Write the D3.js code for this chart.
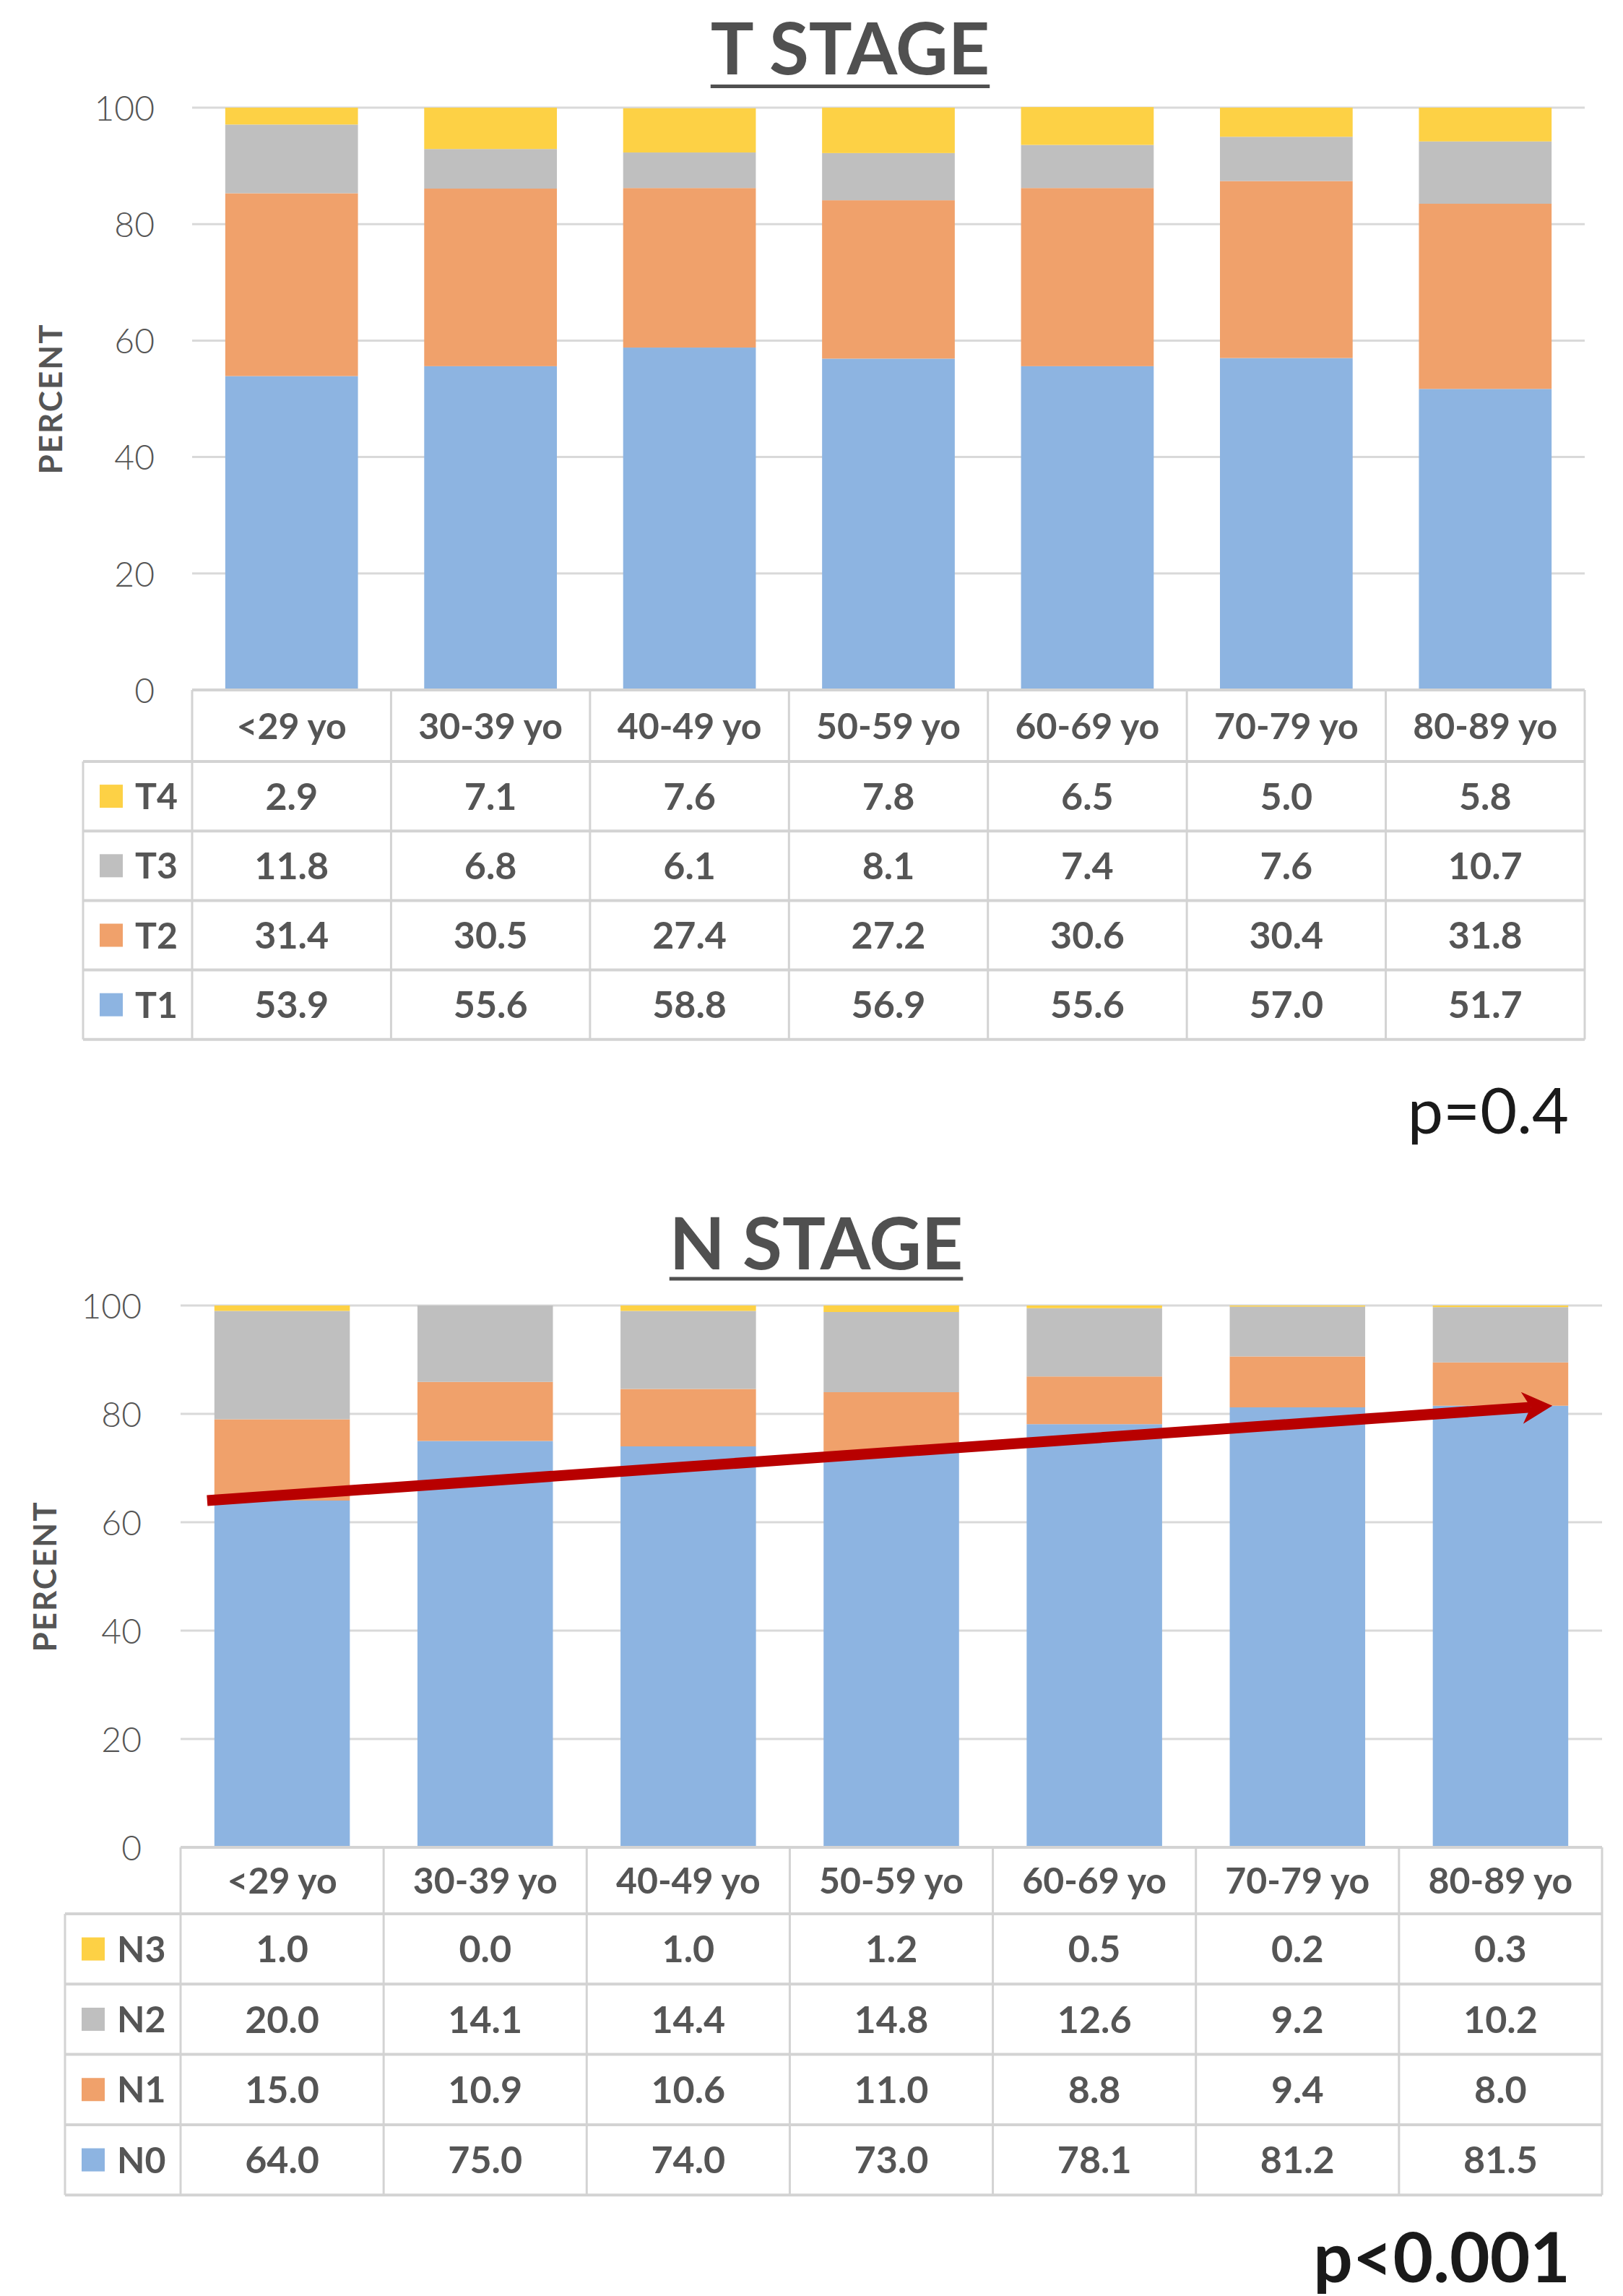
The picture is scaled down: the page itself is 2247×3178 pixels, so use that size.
<!DOCTYPE html>
<html>
<head>
<meta charset="utf-8">
<script src="https://cdn.jsdelivr.net/npm/d3@7"></script>
<style>
  html, body { margin: 0; padding: 0; background: #fff; }
  svg { display: block; }
</style>
</head>
<body>
<svg id="chart" width="2247" height="3178"></svg>
<script>
// ---- data ----
const ageGroups = ["<29 yo", "30-39 yo", "40-49 yo", "50-59 yo", "60-69 yo", "70-79 yo", "80-89 yo"];
const yTicks = [0, 20, 40, 60, 80, 100];

// T stage distribution (percent) per age group
const tStages = ["T1", "T2", "T3", "T4"];
const t1 = [53.9, 55.6, 58.8, 56.9, 55.6, 57.0, 51.7];
const t2 = [31.4, 30.5, 27.4, 27.2, 30.6, 30.4, 31.8];
const t3 = [11.8, 6.8, 6.1, 8.1, 7.4, 7.6, 10.7];
const t4 = [2.9, 7.1, 7.6, 7.8, 6.5, 5.0, 5.8];
const tPValue = "p=0.4";

// N stage distribution (percent) per age group
const nStages = ["N0", "N1", "N2", "N3"];
const n0 = [64.0, 75.0, 74.0, 73.0, 78.1, 81.2, 81.5];
const n1 = [15.0, 10.9, 10.6, 11.0, 8.8, 9.4, 8.0];
const n2 = [20.0, 14.1, 14.4, 14.8, 12.6, 9.2, 10.2];
const n3 = [1.0, 0.0, 1.0, 1.2, 0.5, 0.2, 0.3];
const nPValue = "p<0.001";

const stageColors = ["#8db4e1", "#f0a16b", "#bfbfbf", "#fdd145"];

// ---- layout of the two panels ----
const panels = [
  {
    title: "T STAGE", stages: tStages, series: [t1, t2, t3, t4], pText: tPValue, pWeight: 400,
    left: 266, right: 2194, yTop: 149, yBottom: 955,
    titleX: 1177, titleBase: 103, underlineY: 119.5,
    tickRight: 214, axisLabelX: 70,
    legendLeft: 115, headerH: 99, rowH: 96.2,
    pRight: 2172, pBase: 1569, pSize: 88,
    trend: false
  },
  {
    title: "N STAGE", stages: nStages, series: [n0, n1, n2, n3], pText: nPValue, pWeight: 700,
    left: 250, right: 2218, yTop: 1807, yBottom: 2557,
    titleX: 1130, titleBase: 1757, underlineY: 1770,
    tickRight: 196, axisLabelX: 62,
    legendLeft: 90, headerH: 92, rowH: 97.3,
    pRight: 2174, pBase: 3159, pSize: 96,
    trend: true
  }
];

const FONT = "Lato, 'Open Sans', 'DejaVu Sans', sans-serif";
const TEXT_GRAY = "#555555";
const GRID = "#d9d9d9";
const TABLE_LINE = "#d3d3d3";

const svg = d3.select("#chart");
svg.append("rect").attr("width", 2247).attr("height", 3178).attr("fill", "#fff");

panels.forEach(p => {
  const g = svg.append("g");

  const x = d3.scaleBand().domain(ageGroups).range([p.left, p.right]).paddingInner(0).paddingOuter(0);
  const y = d3.scaleLinear().domain([0, 100]).range([p.yBottom, p.yTop]);
  const barW = x.bandwidth() * 0.667;
  const barOffset = (x.bandwidth() - barW) / 2;

  // title with underline
  const title = g.append("text")
    .attr("x", p.titleX).attr("y", p.titleBase)
    .attr("text-anchor", "middle")
    .style("font-family", FONT).style("font-weight", 700).style("font-size", "100px")
    .attr("fill", "#505050")
    .text(p.title);
  const tw = title.node().getComputedTextLength();
  g.append("line")
    .attr("x1", p.titleX - tw / 2).attr("x2", p.titleX + tw / 2)
    .attr("y1", p.underlineY).attr("y2", p.underlineY)
    .attr("stroke", "#505050").attr("stroke-width", 5);

  // gridlines (the zero line is the table's top edge)
  g.append("g").selectAll("line")
    .data(yTicks.filter(t => t > 0))
    .join("line")
    .attr("x1", p.left).attr("x2", p.right)
    .attr("y1", d => y(d)).attr("y2", d => y(d))
    .attr("stroke", GRID).attr("stroke-width", 3);

  // y axis tick labels
  const yAxis = d3.axisLeft(y).tickValues(yTicks).tickSize(0).tickPadding(0).tickFormat(d3.format("d"));
  const ya = g.append("g").attr("transform", `translate(${p.tickRight},0)`).call(yAxis);
  ya.select(".domain").remove();
  ya.selectAll("text")
    .attr("x", 0).attr("dy", "0.36em")
    .style("font-family", FONT).style("font-weight", 300).style("font-size", "48px")
    .attr("fill", TEXT_GRAY);

  // axis title
  g.append("text")
    .attr("transform", `translate(${p.axisLabelX},${(p.yTop + p.yBottom) / 2}) rotate(-90)`)
    .attr("text-anchor", "middle").attr("dy", "0.36em")
    .style("font-family", FONT).style("font-weight", 700).style("font-size", "44px")
    .style("letter-spacing", "2px")
    .attr("fill", TEXT_GRAY)
    .text("PERCENT");

  // stacked bars
  const rows = ageGroups.map((a, i) => {
    const r = { age: a };
    p.stages.forEach((s, k) => { r[s] = p.series[k][i]; });
    return r;
  });
  const stacked = d3.stack().keys(p.stages)(rows);
  g.append("g").selectAll("g")
    .data(stacked)
    .join("g")
    .attr("fill", (d, k) => stageColors[k])
    .selectAll("rect")
    .data(d => d)
    .join("rect")
    .attr("x", d => x(d.data.age) + barOffset)
    .attr("width", barW)
    .attr("y", d => y(d[1]))
    .attr("height", d => y(d[0]) - y(d[1]));

  // data table under the plot
  const tTop = p.yBottom;
  const hdrBottom = tTop + p.headerH;
  const order = [3, 2, 1, 0];              // highest stage listed first
  const tBottom = hdrBottom + order.length * p.rowH;
  const tbl = g.append("g");

  // horizontal rules
  tbl.append("line").attr("x1", p.left).attr("x2", p.right)
    .attr("y1", tTop).attr("y2", tTop)
    .attr("stroke", TABLE_LINE).attr("stroke-width", 4);
  tbl.selectAll("line.h")
    .data(d3.range(order.length + 1))
    .join("line").attr("class", "h")
    .attr("x1", p.legendLeft).attr("x2", p.right)
    .attr("y1", i => hdrBottom + i * p.rowH).attr("y2", i => hdrBottom + i * p.rowH)
    .attr("stroke", TABLE_LINE).attr("stroke-width", 4);
  // vertical rules
  const colEdges = ageGroups.map(a => x(a)).concat([p.right]);
  tbl.selectAll("line.v")
    .data(colEdges)
    .join("line").attr("class", "v")
    .attr("x1", d => d).attr("x2", d => d)
    .attr("y1", tTop).attr("y2", tBottom)
    .attr("stroke", TABLE_LINE).attr("stroke-width", 3);
  tbl.append("line").attr("x1", p.legendLeft).attr("x2", p.legendLeft)
    .attr("y1", hdrBottom).attr("y2", tBottom)
    .attr("stroke", TABLE_LINE).attr("stroke-width", 3);

  // column headers
  tbl.selectAll("text.hdr")
    .data(ageGroups)
    .join("text").attr("class", "hdr")
    .attr("x", d => x(d) + x.bandwidth() / 2)
    .attr("y", tTop + p.headerH / 2)
    .attr("dy", "0.36em").attr("text-anchor", "middle")
    .style("font-family", FONT).style("font-weight", 700).style("font-size", "50px")
    .attr("fill", TEXT_GRAY)
    .text(d => d);

  // rows: legend key + values
  order.forEach((k, r) => {
    const cy = hdrBottom + (r + 0.5) * p.rowH;
    tbl.append("rect")
      .attr("x", p.legendLeft + 23).attr("y", cy - 16)
      .attr("width", 32).attr("height", 32)
      .attr("fill", stageColors[k]);
    tbl.append("text")
      .attr("x", p.legendLeft + 72).attr("y", cy).attr("dy", "0.36em")
      .style("font-family", FONT).style("font-weight", 700).style("font-size", "50px")
      .attr("fill", TEXT_GRAY)
      .text(p.stages[k]);
    tbl.selectAll(null)
      .data(p.series[k])
      .join("text")
      .attr("x", (d, i) => x(ageGroups[i]) + x.bandwidth() / 2)
      .attr("y", cy).attr("dy", "0.36em").attr("text-anchor", "middle")
      .style("font-family", FONT).style("font-weight", 700).style("font-size", "52px")
      .attr("fill", TEXT_GRAY)
      .text(d => d.toFixed(1));
  });

  // p-value
  g.append("text")
    .attr("x", p.pRight).attr("y", p.pBase).attr("text-anchor", "end")
    .style("font-family", FONT).style("font-weight", p.pWeight).style("font-size", p.pSize + "px")
    .attr("fill", "#1a1a1a")
    .text(p.pText);

  // trend arrow across the N0 segments
  if (p.trend) {
    const base = p.series[0];
    const first = 0, last = ageGroups.length - 1;
    const x0 = x(ageGroups[first]) + barOffset - 10;
    const y0 = y(base[first]);
    const x1 = x(ageGroups[last]) + barOffset + barW - 22;
    const y1 = y(base[last]);
    const ang = Math.atan2(y1 - y0, x1 - x0);
    const ux = Math.cos(ang), uy = Math.sin(ang);
    const nx = -uy, ny = ux;
    const headLen = 42, headHalf = 22, notch = 12;
    g.append("line")
      .attr("x1", x0).attr("y1", y0)
      .attr("x2", x1 - ux * (headLen - notch)).attr("y2", y1 - uy * (headLen - notch))
      .attr("stroke", "#b80000").attr("stroke-width", 15);
    const bx = x1 - ux * headLen, by = y1 - uy * headLen;
    const pts = [
      [x1, y1],
      [bx + nx * headHalf, by + ny * headHalf],
      [x1 - ux * (headLen - notch), y1 - uy * (headLen - notch)],
      [bx - nx * headHalf, by - ny * headHalf]
    ];
    g.append("polygon")
      .attr("points", pts.map(q => q.join(",")).join(" "))
      .attr("fill", "#b80000");
  }
});
</script>
</body>
</html>
